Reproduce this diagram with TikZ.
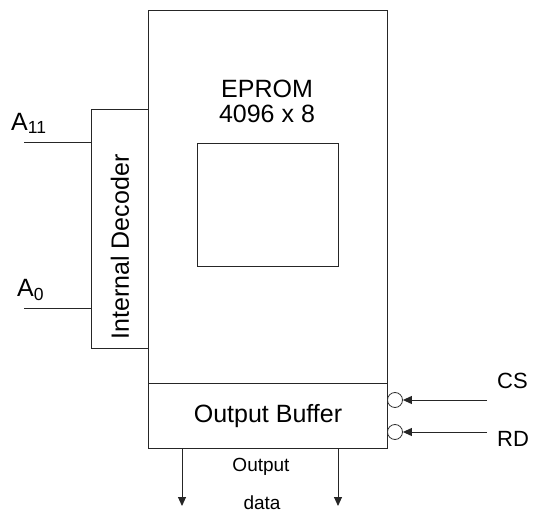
\documentclass[tikz,border=0pt]{standalone}
\usepackage{fontspec}
\setmainfont{Liberation Sans}
\usetikzlibrary{arrows.meta}
\begin{document}
\begin{tikzpicture}[x=1pt,y=-1pt,
  line/.style={draw=black!85,line width=1pt},
  box/.style={line},
  bigtxt/.style={font=\fontsize{25}{29}\selectfont},
  midtxt/.style={font=\fontsize{22}{26}\selectfont},
  smalltxt/.style={font=\fontsize{19}{23}\selectfont},
  bubble/.style={circle,draw=black!80,line width=0.8pt,minimum size=15pt,inner sep=0pt},
  tip/.style={-{Triangle[length=9pt,width=8pt]}}]
\useasboundingbox (0,0) rectangle (536,513);
% main EPROM box
\draw[box] (148,11) rectangle (387,383);
% output buffer
\draw[box] (148,383) rectangle (387,448);
\node[bigtxt] (buf) at (268,416) {Output Buffer};
% inner square
\draw[box] (197,144) rectangle (338,267);
\node[bigtxt,align=center] (eprom) at (267,101) {EPROM\\[-4pt]4096 x 8};
% decoder
\draw[box] (91,110) rectangle (148,349);
\node[bigtxt,rotate=90] (dec) at (120,247) {Internal Decoder};
% address lines
\coordinate (a11s) at (24,143);
\coordinate (a11e) at (91,143);
\coordinate (a0s) at (24,309);
\coordinate (a0e) at (91,309);
\draw[line] (a11s) -- (a11e);
\draw[line] (a0s) -- (a0e);
\node[bigtxt,anchor=south west,inner sep=0pt] (la11) at (11,134) {A\textsubscript{11}};
\node[bigtxt,anchor=south west,inner sep=0pt] (la0) at (17,301) {A\textsubscript{0}};
% control bubbles
\node[bubble] (cs) at (395,400) {};
\node[bubble] (rd) at (395,432) {};
\coordinate (css) at (487,400);
\coordinate (rds) at (487,432);
\draw[line,tip] (css) -- (cs.east);
\draw[line,tip] (rds) -- (rd.east);
\node[midtxt,anchor=west,inner sep=0pt] (lcs) at (497,381) {CS};
\node[midtxt,anchor=west,inner sep=0pt] (lrd) at (497,439) {RD};
% output data
\coordinate (o1s) at (182,448);
\coordinate (o1e) at (182,506);
\coordinate (o2s) at (338,448);
\coordinate (o2e) at (338,506);
\draw[line,tip] (o1s) -- (o1e);
\draw[line,tip] (o2s) -- (o2e);
\node[smalltxt] (out) at (261,467) {Output};
\node[smalltxt] (data) at (262,503) {data};
\end{tikzpicture}
\end{document}
